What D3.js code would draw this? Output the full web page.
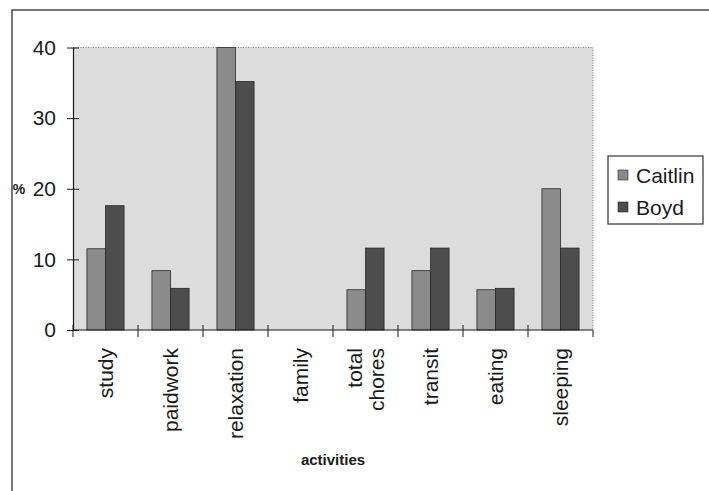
<!DOCTYPE html>
<html>
<head>
<meta charset="utf-8">
<script src="https://cdn.jsdelivr.net/npm/d3@7"></script>
<style>
  body { margin: 0; background: #fff; }
  text { font-family: "Liberation Sans", Arial, sans-serif; fill: #1a1a1a; }
</style>
</head>
<body>
<svg id="chart" width="709" height="491"></svg>
<script>
// values (percent of time)
const categories = ['study', 'paidwork', 'relaxation', 'family', 'total chores', 'transit', 'eating', 'sleeping']
const seriesNames = ['Caitlin', 'Boyd']
const caitlin = [11.5, 8.4, 40, 0, 5.7, 8.4, 5.7, 20]
const boyd = [17.6, 5.9, 35.2, 0, 11.6, 11.6, 5.9, 11.6]
const yTicks = [0, 10, 20, 30, 40]

const colors = {Caitlin: '#8b8b8b', Boyd: '#4d4d4d'}
const margin = {top: 47.5, right: 116, bottom: 161, left: 73}
const width = 709, height = 491

const svg = d3.select('#chart')

// outer chart frame (only top and left edges show in the scan)
svg.append('path')
  .attr('d', `M12,${height} V10 H${width}`)
  .attr('fill', 'none')
  .attr('stroke', '#4a4a4a')
  .attr('stroke-width', 1.5)

const x = d3.scaleBand()
  .domain(categories)
  .range([margin.left, width - margin.right])
  .padding(0)

const xInner = d3.scaleBand()
  .domain(seriesNames)
  .range([0, x.bandwidth()])
  .paddingInner(0)
  .paddingOuter(0.75)

const y = d3.scaleLinear()
  .domain([0, 40])
  .range([height - margin.bottom, margin.top])

// plot area
svg.append('rect')
  .attr('x', margin.left)
  .attr('y', y(40))
  .attr('width', x.range()[1] - margin.left)
  .attr('height', y(0) - y(40))
  .attr('fill', '#dcdcdc')

svg.append('path')
  .attr('d', `M${margin.left},${y(40)} H${x.range()[1]} V${y(0)}`)
  .attr('fill', 'none')
  .attr('stroke', '#7a7a7a')
  .attr('stroke-dasharray', '1,1.5')

const rows = categories.map((c, i) => ({cat: c, Caitlin: caitlin[i], Boyd: boyd[i]}))

svg.append('g')
  .selectAll('g')
  .data(rows)
  .join('g')
  .attr('transform', d => `translate(${x(d.cat)},0)`)
  .selectAll('rect')
  .data(d => seriesNames.map(s => ({key: s, value: d[s]})).filter(v => v.value > 0))
  .join('rect')
  .attr('x', d => xInner(d.key))
  .attr('y', d => y(d.value))
  .attr('width', xInner.bandwidth())
  .attr('height', d => y(0) - y(d.value))
  .attr('fill', d => colors[d.key])
  .attr('stroke', '#2a2a2a')
  .attr('stroke-width', 0.8)

// y axis
const yAxis = d3.axisLeft(y).tickValues(yTicks).tickSizeInner(6).tickSizeOuter(0).tickPadding(11)
const gy = svg.append('g')
  .attr('transform', `translate(${margin.left},0)`)
  .call(yAxis)
gy.select('.domain').attr('stroke', '#1a1a1a').attr('stroke-width', 1.2)
gy.selectAll('.tick line').attr('stroke', '#1a1a1a').attr('x2', -6).attr('x1', 6)
gy.selectAll('.tick text')
  .style('font-size', '21px')
  .attr('fill', '#1a1a1a')
  .attr('font-family', '"Liberation Sans", Arial, sans-serif')

// x axis line with crossing ticks at the band edges
const gx = svg.append('g')
gx.append('line')
  .attr('x1', margin.left).attr('x2', x.range()[1])
  .attr('y1', y(0)).attr('y2', y(0))
  .attr('stroke', '#1a1a1a')
  .attr('stroke-width', 1.2)
const edges = categories.map(c => x(c)).concat([x.range()[1]])
gx.selectAll('.xt')
  .data(edges)
  .join('line')
  .attr('class', 'xt')
  .attr('x1', d => d).attr('x2', d => d)
  .attr('y1', (d, i) => i === edges.length - 1 ? y(0) : y(0) - 5)
  .attr('y2', y(0) + 7)
  .attr('stroke', '#1a1a1a')

// rotated category labels
const labels = gx.selectAll('.xl')
  .data(categories)
  .join('text')
  .attr('class', 'xl')
  .attr('transform', d => `translate(${x(d) + x.bandwidth() / 2},${y(0) + 18}) rotate(-90)`)
  .attr('text-anchor', 'end')
  .style('font-size', '21px')

labels.each(function(d) {
  const parts = d.split(' ')
  const t = d3.select(this)
  parts.forEach((p, i) => {
    t.append('tspan')
      .attr('x', 0)
      .attr('dy', i === 0 ? `${0.35 - (parts.length - 1) * 0.54}em` : '1.08em')
      .text(p)
  })
})

// axis titles
svg.append('text')
  .attr('x', 19)
  .attr('y', (y(0) + y(40)) / 2)
  .attr('dy', '0.35em')
  .attr('text-anchor', 'middle')
  .style('font-size', '14px')
  .style('font-weight', 'bold')
  .text('%')

svg.append('text')
  .attr('x', (margin.left + x.range()[1]) / 2)
  .attr('y', 465)
  .attr('text-anchor', 'middle')
  .style('font-size', '15px')
  .style('font-weight', 'bold')
  .text('activities')

// legend
const legend = svg.append('g').attr('transform', 'translate(608,156)')
legend.append('rect')
  .attr('width', 95)
  .attr('height', 68)
  .attr('fill', '#fff')
  .attr('stroke', '#333')
  .attr('stroke-width', 1.2)

const item = legend.selectAll('.li')
  .data(seriesNames)
  .join('g')
  .attr('class', 'li')
  .attr('transform', (d, i) => `translate(10,${19 + i * 32})`)
item.append('rect')
  .attr('y', -5)
  .attr('width', 10)
  .attr('height', 10)
  .attr('fill', d => colors[d])
  .attr('stroke', '#2a2a2a')
  .attr('stroke-width', 0.6)
item.append('text')
  .attr('x', 18)
  .attr('dy', '0.36em')
  .style('font-size', '21px')
  .text(d => d)
</script>
</body>
</html>
